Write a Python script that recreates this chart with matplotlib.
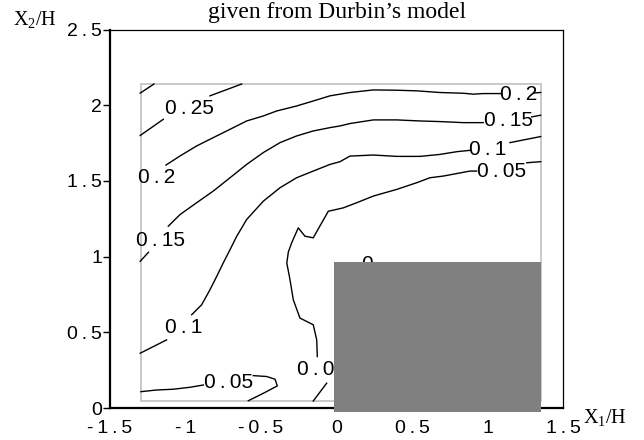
import numpy as np
import matplotlib
matplotlib.use("Agg")
import matplotlib.pyplot as plt
from matplotlib.patches import Rectangle

plt.rcParams['font.family'] = ['Liberation Sans', 'DejaVu Sans']
plt.rcParams['axes.unicode_minus'] = False

nan = np.nan

# x-ticks / y-ticks
x_ticks = [-1.5, -1, -0.5, 0, 0.5, 1, 1.5]
x_tick_labels = ['-1.5', '-1', '-0.5', '0', '0.5', '1', '1.5']
y_ticks = [0, 0.5, 1, 1.5, 2, 2.5]
y_tick_labels = ['0', '0.5', '1', '1.5', '2', '2.5']

# contour lines (nan = gap for the inline label)
c030_x = [-1.30, -1.209]
c030_y = [2.08, 2.14]

c025_x = [-1.30, -1.147, nan, -0.838, -0.628]
c025_y = [1.80, 1.907, nan, 2.062, 2.14]

c020_x = [-1.129, -1.036, -0.926, -0.816, -0.705, -0.595, -0.485, -0.396, -0.264, -0.154,
          -0.043, 0.023, 0.089, 0.244, 0.399, 0.531, 0.685, 0.840, 0.906, 0.972, 1.094,
          nan, 1.308, 1.352]
c020_y = [1.605, 1.665, 1.731, 1.786, 1.841, 1.896, 1.929, 1.962, 1.995, 2.028,
          2.062, 2.073, 2.084, 2.101, 2.099, 2.095, 2.084, 2.079, 2.073, 2.077, 2.077,
          nan, 2.081, 2.084]

c015_x = [-1.30, -1.245, nan, -1.114, -1.036, -0.926, -0.816, -0.705, -0.595, -0.485, -0.374,
          -0.264, -0.154, -0.043, 0.023, 0.089, 0.244, 0.399, 0.553, 0.685, 0.840, 0.972,
          nan, 1.293, 1.352]
c015_y = [0.969, 1.029, nan, 1.201, 1.278, 1.356, 1.433, 1.521, 1.609, 1.687, 1.753,
          1.797, 1.830, 1.852, 1.863, 1.879, 1.903, 1.903, 1.896, 1.892, 1.885, 1.885,
          nan, 1.923, 1.934]

c010_x = [-1.30, -1.125, nan, -0.959, -0.893, -0.838, -0.793, -0.750, -0.705, -0.661, -0.595,
          -0.485, -0.374, -0.264, -0.154, -0.043, 0.023, 0.089, 0.244, 0.399, 0.553, 0.685,
          0.796, 0.884, nan, 1.149, 1.352]
c010_y = [0.362, 0.450, nan, 0.616, 0.682, 0.781, 0.870, 0.958, 1.046, 1.134, 1.245,
          1.366, 1.455, 1.521, 1.565, 1.609, 1.627, 1.664, 1.671, 1.662, 1.662, 1.675,
          1.693, 1.702, nan, 1.753, 1.793]

c005a_x = [-0.154, -0.065, nan, -0.127, -0.131, -0.154, -0.242, -0.286, -0.308, -0.329, -0.319,
           -0.297, -0.253, -0.209, -0.154, -0.098, -0.054, -0.021, 0.045, 0.134, 0.244, 0.399,
           0.531, 0.619, 0.707, 0.884, 0.928, nan, 1.260, 1.352]
c005a_y = [0.046, 0.164, nan, 0.340, 0.450, 0.550, 0.594, 0.715, 0.848, 0.958, 1.030,
           1.091, 1.190, 1.135, 1.124, 1.223, 1.300, 1.307, 1.322, 1.356, 1.400, 1.444,
           1.488, 1.521, 1.532, 1.565, 1.565, nan, 1.620, 1.627]

c005b_x = [-1.295, -1.191, -1.081, -0.970, -0.882, nan, -0.551, -0.462, -0.407, -0.392, -0.485, -0.584]
c005b_y = [0.108, 0.119, 0.124, 0.137, 0.152, nan, 0.214, 0.208, 0.190, 0.146, 0.097, 0.048]

contours = [(c030_x, c030_y), (c025_x, c025_y), (c020_x, c020_y), (c015_x, c015_y),
            (c010_x, c010_y), (c005a_x, c005a_y), (c005b_x, c005b_y)]

label_text = ['0.25', '0.2', '0.2', '0.15', '0.15', '0.1', '0.1', '0.05', '0.05', '0.05', '0', '0']
label_x = [-0.975, -1.19, 1.204, -1.164, 1.138, -1.010, 0.999, -0.100, 1.094, -0.712, 0.20, 0.84]
label_y = [1.978, 1.52, 2.068, 1.108, 1.896, 0.534, 1.709, 0.256, 1.561, 0.168, 0.95, 0.02]

# computational domain and the step (grey block)
domain = (-1.294, 1.354, 0.046, 2.139)
step = (-0.017, 1.354, -0.026, 0.967)


def spaced(s):
    return '\u2009'.join(s)


def dot_spaced(s):
    return s.replace('.', '\u2009.\u2009')


fig = plt.figure(figsize=(6.44, 4.40), dpi=100)
ax = fig.add_axes([0.1708, 0.0727, 0.7034, 0.8602])

for cx, cy in contours:
    ax.plot(cx, cy, color='black', lw=1.0, zorder=3)

for t, lx, ly in zip(label_text, label_x, label_y):
    ax.text(lx, ly, dot_spaced(t), ha='center', va='center', fontsize=15, zorder=3)

ax.add_patch(Rectangle((domain[0], domain[2]), domain[1] - domain[0], domain[3] - domain[2],
                       fill=False, edgecolor='#c0c0c0', lw=1.2, zorder=2))
ax.add_patch(Rectangle((step[0], step[2]), step[1] - step[0], step[3] - step[2],
                       facecolor='#808080', edgecolor='none', clip_on=False, zorder=6))

ax.set_xlim(-1.5, 1.5)
ax.set_ylim(0, 2.5)
ax.set_xticks(x_ticks)
ax.set_xticklabels([spaced(s) for s in x_tick_labels])
ax.set_yticks(y_ticks)
ax.set_yticklabels([spaced(s) for s in y_tick_labels])
ax.tick_params(axis='x', length=0, labelsize=14, pad=8.5)
ax.tick_params(axis='y', direction='out', length=5, width=1, labelsize=14, pad=0.8)

for side in ['left', 'bottom']:
    ax.spines[side].set_linewidth(1.6)
for side in ['top', 'right']:
    ax.spines[side].set_linewidth(0.9)

serif = ['Liberation Serif', 'DejaVu Serif']
fig.text(0.523, 1 - 18 / 440, "given from Durbin\u2019s model", ha='center', va='baseline',
         fontsize=17, family=serif)
fig.text(13 / 644, 1 - 25 / 440, r'$\mathregular{X_2}$/H', ha='left', va='baseline',
         fontsize=14.5, family=serif)
fig.text(583 / 644, 1 - 423 / 440, r'$\mathregular{X_1}$/H', ha='left', va='baseline',
         fontsize=14.5, family=serif)

fig.savefig('out.png', dpi=100)
